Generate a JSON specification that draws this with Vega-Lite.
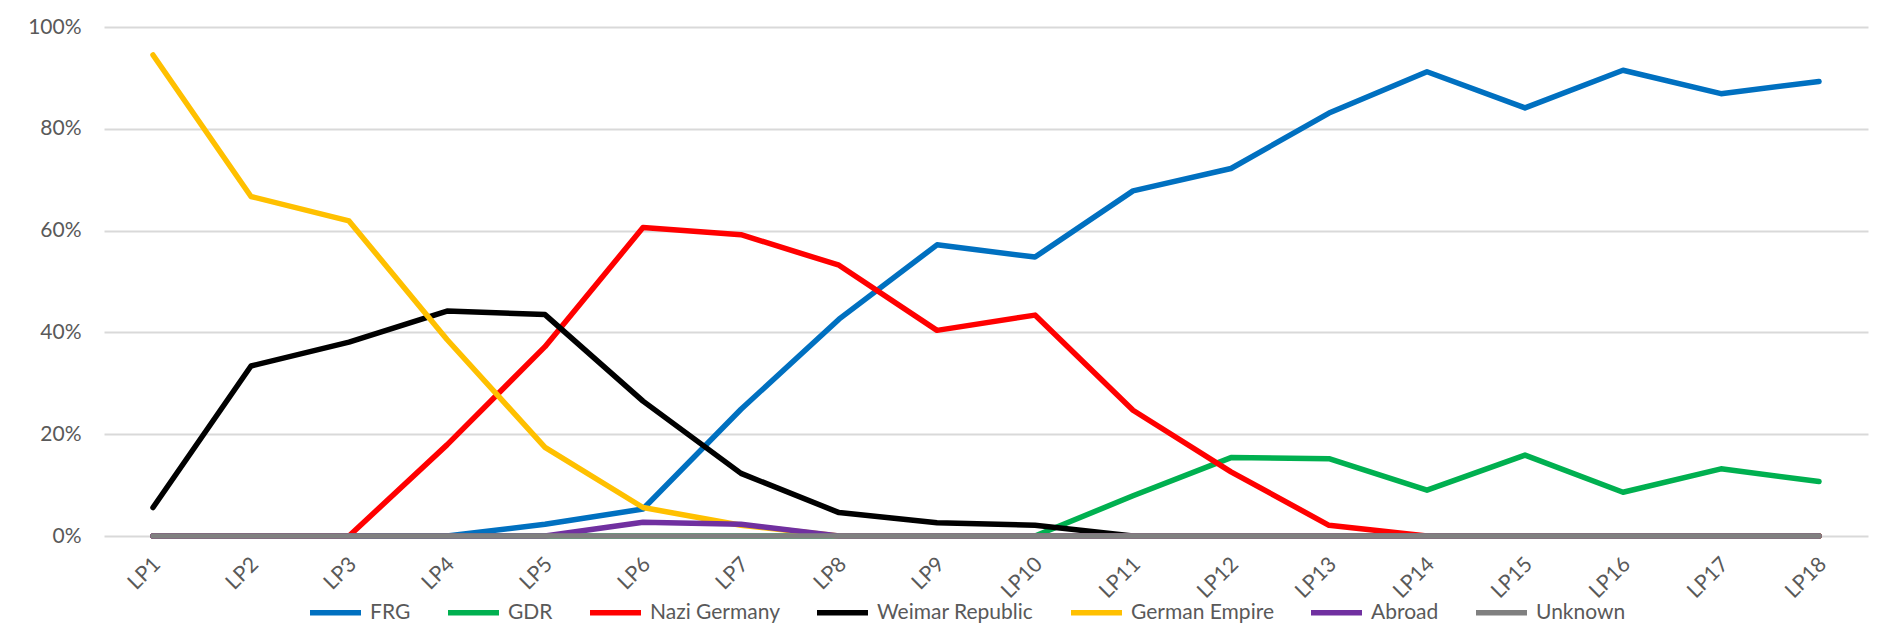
{
  "$schema": "https://vega.github.io/schema/vega-lite/v6.json",
  "width": 1764,
  "height": 509,
  "autosize": {"type": "none"},
  "padding": {"left": 104, "top": 27, "right": 26, "bottom": 99},
  "background": "white",
  "config": {
    "view": {"stroke": null},
    "font": "Lato",
    "axis": {"labelFont": "Lato", "labelColor": "#595959", "labelFontSize": 21}
  },
  "data": {
    "values": [
      {"lp": "LP1", "series": "FRG", "v": 0}, {"lp": "LP2", "series": "FRG", "v": 0}, {"lp": "LP3", "series": "FRG", "v": 0}, {"lp": "LP4", "series": "FRG", "v": 0}, {"lp": "LP5", "series": "FRG", "v": 0.023}, {"lp": "LP6", "series": "FRG", "v": 0.053}, {"lp": "LP7", "series": "FRG", "v": 0.249}, {"lp": "LP8", "series": "FRG", "v": 0.426}, {"lp": "LP9", "series": "FRG", "v": 0.572}, {"lp": "LP10", "series": "FRG", "v": 0.548}, {"lp": "LP11", "series": "FRG", "v": 0.678}, {"lp": "LP12", "series": "FRG", "v": 0.722}, {"lp": "LP13", "series": "FRG", "v": 0.831}, {"lp": "LP14", "series": "FRG", "v": 0.912}, {"lp": "LP15", "series": "FRG", "v": 0.841}, {"lp": "LP16", "series": "FRG", "v": 0.915}, {"lp": "LP17", "series": "FRG", "v": 0.869}, {"lp": "LP18", "series": "FRG", "v": 0.893},
      {"lp": "LP1", "series": "GDR", "v": 0}, {"lp": "LP2", "series": "GDR", "v": 0}, {"lp": "LP3", "series": "GDR", "v": 0}, {"lp": "LP4", "series": "GDR", "v": 0}, {"lp": "LP5", "series": "GDR", "v": 0}, {"lp": "LP6", "series": "GDR", "v": 0}, {"lp": "LP7", "series": "GDR", "v": 0}, {"lp": "LP8", "series": "GDR", "v": 0}, {"lp": "LP9", "series": "GDR", "v": 0}, {"lp": "LP10", "series": "GDR", "v": 0}, {"lp": "LP11", "series": "GDR", "v": 0.079}, {"lp": "LP12", "series": "GDR", "v": 0.154}, {"lp": "LP13", "series": "GDR", "v": 0.152}, {"lp": "LP14", "series": "GDR", "v": 0.09}, {"lp": "LP15", "series": "GDR", "v": 0.159}, {"lp": "LP16", "series": "GDR", "v": 0.086}, {"lp": "LP17", "series": "GDR", "v": 0.132}, {"lp": "LP18", "series": "GDR", "v": 0.107},
      {"lp": "LP1", "series": "Nazi Germany", "v": 0}, {"lp": "LP2", "series": "Nazi Germany", "v": 0}, {"lp": "LP3", "series": "Nazi Germany", "v": 0}, {"lp": "LP4", "series": "Nazi Germany", "v": 0.179}, {"lp": "LP5", "series": "Nazi Germany", "v": 0.372}, {"lp": "LP6", "series": "Nazi Germany", "v": 0.606}, {"lp": "LP7", "series": "Nazi Germany", "v": 0.592}, {"lp": "LP8", "series": "Nazi Germany", "v": 0.532}, {"lp": "LP9", "series": "Nazi Germany", "v": 0.404}, {"lp": "LP10", "series": "Nazi Germany", "v": 0.434}, {"lp": "LP11", "series": "Nazi Germany", "v": 0.247}, {"lp": "LP12", "series": "Nazi Germany", "v": 0.126}, {"lp": "LP13", "series": "Nazi Germany", "v": 0.021}, {"lp": "LP14", "series": "Nazi Germany", "v": 0}, {"lp": "LP15", "series": "Nazi Germany", "v": 0}, {"lp": "LP16", "series": "Nazi Germany", "v": 0}, {"lp": "LP17", "series": "Nazi Germany", "v": 0}, {"lp": "LP18", "series": "Nazi Germany", "v": 0},
      {"lp": "LP1", "series": "Weimar Republic", "v": 0.056}, {"lp": "LP2", "series": "Weimar Republic", "v": 0.334}, {"lp": "LP3", "series": "Weimar Republic", "v": 0.381}, {"lp": "LP4", "series": "Weimar Republic", "v": 0.442}, {"lp": "LP5", "series": "Weimar Republic", "v": 0.435}, {"lp": "LP6", "series": "Weimar Republic", "v": 0.265}, {"lp": "LP7", "series": "Weimar Republic", "v": 0.123}, {"lp": "LP8", "series": "Weimar Republic", "v": 0.046}, {"lp": "LP9", "series": "Weimar Republic", "v": 0.026}, {"lp": "LP10", "series": "Weimar Republic", "v": 0.021}, {"lp": "LP11", "series": "Weimar Republic", "v": 0}, {"lp": "LP12", "series": "Weimar Republic", "v": 0}, {"lp": "LP13", "series": "Weimar Republic", "v": 0}, {"lp": "LP14", "series": "Weimar Republic", "v": 0}, {"lp": "LP15", "series": "Weimar Republic", "v": 0}, {"lp": "LP16", "series": "Weimar Republic", "v": 0}, {"lp": "LP17", "series": "Weimar Republic", "v": 0}, {"lp": "LP18", "series": "Weimar Republic", "v": 0},
      {"lp": "LP1", "series": "German Empire", "v": 0.945}, {"lp": "LP2", "series": "German Empire", "v": 0.667}, {"lp": "LP3", "series": "German Empire", "v": 0.619}, {"lp": "LP4", "series": "German Empire", "v": 0.386}, {"lp": "LP5", "series": "German Empire", "v": 0.174}, {"lp": "LP6", "series": "German Empire", "v": 0.056}, {"lp": "LP7", "series": "German Empire", "v": 0.021}, {"lp": "LP8", "series": "German Empire", "v": 0}, {"lp": "LP9", "series": "German Empire", "v": 0}, {"lp": "LP10", "series": "German Empire", "v": 0}, {"lp": "LP11", "series": "German Empire", "v": 0}, {"lp": "LP12", "series": "German Empire", "v": 0}, {"lp": "LP13", "series": "German Empire", "v": 0}, {"lp": "LP14", "series": "German Empire", "v": 0}, {"lp": "LP15", "series": "German Empire", "v": 0}, {"lp": "LP16", "series": "German Empire", "v": 0}, {"lp": "LP17", "series": "German Empire", "v": 0}, {"lp": "LP18", "series": "German Empire", "v": 0},
      {"lp": "LP1", "series": "Abroad", "v": 0}, {"lp": "LP2", "series": "Abroad", "v": 0}, {"lp": "LP3", "series": "Abroad", "v": 0}, {"lp": "LP4", "series": "Abroad", "v": 0}, {"lp": "LP5", "series": "Abroad", "v": 0}, {"lp": "LP6", "series": "Abroad", "v": 0.027}, {"lp": "LP7", "series": "Abroad", "v": 0.023}, {"lp": "LP8", "series": "Abroad", "v": 0}, {"lp": "LP9", "series": "Abroad", "v": 0}, {"lp": "LP10", "series": "Abroad", "v": 0}, {"lp": "LP11", "series": "Abroad", "v": 0}, {"lp": "LP12", "series": "Abroad", "v": 0}, {"lp": "LP13", "series": "Abroad", "v": 0}, {"lp": "LP14", "series": "Abroad", "v": 0}, {"lp": "LP15", "series": "Abroad", "v": 0}, {"lp": "LP16", "series": "Abroad", "v": 0}, {"lp": "LP17", "series": "Abroad", "v": 0}, {"lp": "LP18", "series": "Abroad", "v": 0},
      {"lp": "LP1", "series": "Unknown", "v": 0}, {"lp": "LP2", "series": "Unknown", "v": 0}, {"lp": "LP3", "series": "Unknown", "v": 0}, {"lp": "LP4", "series": "Unknown", "v": 0}, {"lp": "LP5", "series": "Unknown", "v": 0}, {"lp": "LP6", "series": "Unknown", "v": 0}, {"lp": "LP7", "series": "Unknown", "v": 0}, {"lp": "LP8", "series": "Unknown", "v": 0}, {"lp": "LP9", "series": "Unknown", "v": 0}, {"lp": "LP10", "series": "Unknown", "v": 0}, {"lp": "LP11", "series": "Unknown", "v": 0}, {"lp": "LP12", "series": "Unknown", "v": 0}, {"lp": "LP13", "series": "Unknown", "v": 0}, {"lp": "LP14", "series": "Unknown", "v": 0}, {"lp": "LP15", "series": "Unknown", "v": 0}, {"lp": "LP16", "series": "Unknown", "v": 0}, {"lp": "LP17", "series": "Unknown", "v": 0}, {"lp": "LP18", "series": "Unknown", "v": 0}
    ]
  },
  "mark": {"type": "line", "strokeWidth": 5.5, "strokeCap": "round", "strokeJoin": "round"},
  "encoding": {
    "x": {
      "field": "lp", "type": "ordinal", "sort": null,
      "scale": {"type": "point", "padding": 0.5},
      "axis": {"title": null, "labelAngle": -45, "labelPadding": 17, "labelOffset": -4, "ticks": false, "domain": false, "grid": false}
    },
    "y": {
      "field": "v", "type": "quantitative",
      "scale": {"domain": [0, 1], "nice": false},
      "axis": {"title": null, "values": [0, 0.2, 0.4, 0.6, 0.8, 1], "format": ".0%", "labelPadding": 23, "ticks": false, "domain": false, "gridColor": "#D9D9D9", "gridWidth": 2}
    },
    "color": {
      "field": "series", "type": "nominal", "sort": null,
      "scale": {
        "domain": ["FRG", "GDR", "Nazi Germany", "Weimar Republic", "German Empire", "Abroad", "Unknown"],
        "range": ["#0070C0", "#00B050", "#FF0000", "#000000", "#FFC000", "#7030A0", "#808080"]
      },
      "legend": {
        "title": null, "orient": "none", "direction": "horizontal",
        "legendX": 203, "legendY": 557,
        "symbolType": "stroke", "symbolSize": 2600, "symbolStrokeWidth": 5.5,
        "labelFont": "Lato", "labelFontSize": 21, "labelColor": "#595959",
        "labelOffset": 6, "columnPadding": 26
      }
    }
  }
}
